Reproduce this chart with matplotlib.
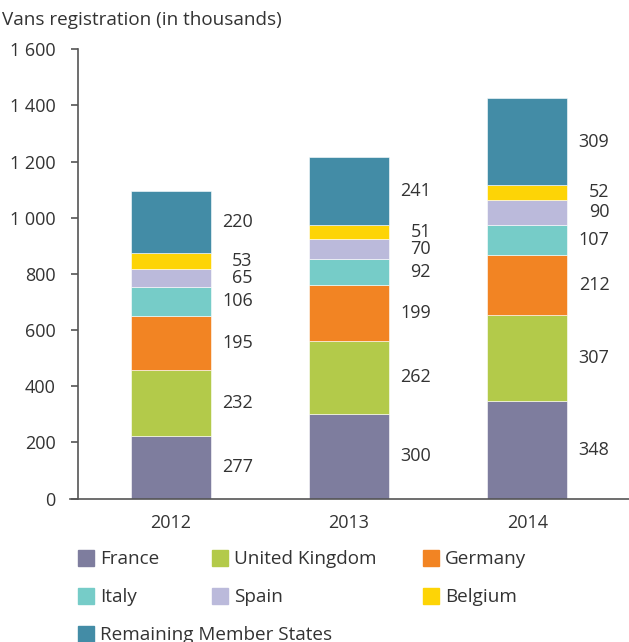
import matplotlib.pyplot as plt
from matplotlib.patches import Rectangle
from matplotlib.ticker import FuncFormatter
from matplotlib.lines import Line2D

plt.rcParams['font.family'] = ['Open Sans', 'DejaVu Sans']

years = ['2012', '2013', '2014']
series = ['France', 'United Kingdom', 'Germany', 'Italy', 'Spain', 'Belgium',
          'Remaining Member States']
colors = ['#7e7d9e', '#b3ca4a', '#f28423', '#76ccc8', '#bbbadb', '#fdd406', '#438ca6']

# bar heights as drawn (the 2012 France bar is drawn shorter than its label says)
france = [224, 300, 348]
uk = [234, 262, 307]
germany = [192, 199, 212]
italy = [104, 92, 107]
spain = [65, 70, 90]
belgium = [55, 51, 52]
remaining = [220, 241, 309]

# printed labels
france_labels = ['277', '300', '348']
uk_labels = ['232', '262', '307']
germany_labels = ['195', '199', '212']
italy_labels = ['106', '92', '107']
spain_labels = ['65', '70', '90']
belgium_labels = ['53', '51', '52']
remaining_labels = ['220', '241', '309']

values = [france, uk, germany, italy, spain, belgium, remaining]
labels = [france_labels, uk_labels, germany_labels, italy_labels, spain_labels,
          belgium_labels, remaining_labels]

text_color = '#333333'
fs = 13
fs_big = 13.6
W, H = 629, 642
fig = plt.figure(figsize=(W / 100, H / 100), dpi=100)
ax = fig.add_axes([78 / W, 1 - 498.5 / H, 551 / W, 449.2 / H])

x = list(range(len(years)))
width = 0.449
bottom = [0, 0, 0]
for vals, labs, c in zip(values, labels, colors):
    ax.bar(x, vals, width, bottom=bottom, color=c, edgecolor='white', linewidth=0.4)
    for i in x:
        ax.text(i + 0.46, bottom[i] + vals[i] / 2, labs[i], ha='right', va='center',
                fontsize=fs, color=text_color)
    bottom = [b + v for b, v in zip(bottom, vals)]

ax.set_xlim(-0.52, 2.57)
ax.set_ylim(0, 1600)
ax.set_yticks(range(0, 1601, 200))
ax.yaxis.set_major_formatter(FuncFormatter(lambda v, p: f'{int(v):,}'.replace(',', ' ')))
ax.set_xticks(x)
ax.set_xticklabels(years)
ax.tick_params(axis='y', length=5, width=1.2, color='#555555', pad=11,
               labelsize=fs, labelcolor=text_color)
ax.tick_params(axis='x', length=0, pad=11.5, labelsize=fs, labelcolor=text_color)
for s in ['top', 'right', 'bottom']:
    ax.spines[s].set_visible(False)
ax.spines['left'].set_color('#555555')
ax.spines['left'].set_linewidth(1.2)
ax.add_line(Line2D([-8 / 551, 1], [0, 0], transform=ax.transAxes, color='#555555',
                   linewidth=1.2, clip_on=False))

fig.text(2 / W, 1 - 20 / H, 'Vans registration (in thousands)', ha='left', va='center',
         fontsize=fs_big, color=text_color)

# legend, row by row
cols = [78, 212, 423]
rows = [558, 596, 634]
for k, (name, c) in enumerate(zip(series, colors)):
    px = cols[k % 3]
    py = rows[k // 3]
    fig.patches.append(Rectangle((px / W, 1 - (py + 8) / H), 16 / W, 16 / H,
                                 transform=fig.transFigure, color=c))
    fig.text((px + 22) / W, 1 - (py + 1) / H, name, ha='left', va='center',
             fontsize=fs_big, color=text_color)

fig.savefig('out.png', dpi=100)
